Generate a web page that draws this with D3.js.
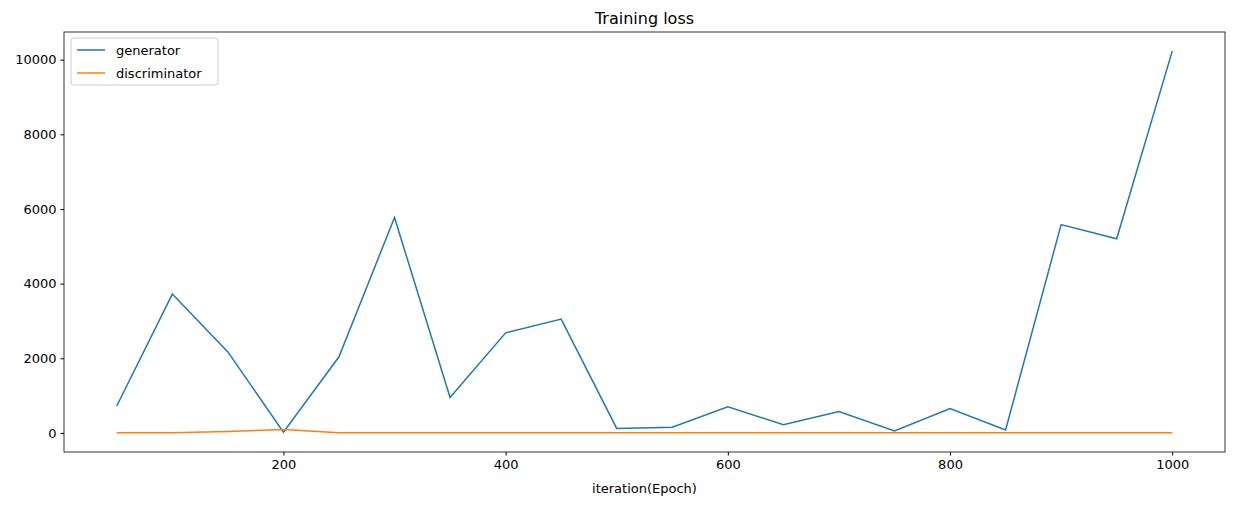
<!DOCTYPE html>
<html><head><meta charset="utf-8">
<script src="https://cdn.jsdelivr.net/npm/d3@7"></script>
<style>body{margin:0;background:#fff}text{font-family:"DejaVu Sans",sans-serif}</style>
</head><body><svg id="c" width="1239" height="505"></svg>
<script>
const epochs=[50,100,150,200,250,300,350,400,450,500,550,600,650,700,750,800,850,900,950,1000];
const generator=[720,3720,2170,20,2040,5770,950,2680,3050,120,150,700,220,570,50,650,80,5580,5200,10230];
const discriminator=[3,3,40,90,5,3,3,3,3,3,3,3,3,3,3,3,3,3,3,3];
const xTicks=[200,400,600,800,1000];
const yTicks=[0,2000,4000,6000,8000,10000];
const L=64,R=1225,T=32,B=452;
const svg=d3.select("#c");
const x=d3.scaleLinear().domain([2.5,1047.5]).range([L,R]);
const y=d3.scaleLinear().domain([-511.5,10741.5]).range([B,T]);
const fs="13.9px";
const xa=svg.append("g").attr("transform",`translate(0,${B})`).call(d3.axisBottom(x).tickValues(xTicks).tickSize(3.5).tickPadding(4).tickFormat(d3.format("d")));
const ya=svg.append("g").attr("transform",`translate(${L},0)`).call(d3.axisLeft(y).tickValues(yTicks).tickSize(3.5).tickPadding(4).tickFormat(d3.format("d")));
[xa,ya].forEach(a=>{a.select(".domain").remove();a.selectAll("text").style("font-size","13px").attr("fill","#000");a.selectAll("line").attr("stroke","#000");});
const line=d=>d3.line().x((v,i)=>x(epochs[i])).y(v=>y(v))(d);
svg.append("path").attr("d",line(generator)).attr("fill","none").attr("stroke","#1f77b4").attr("stroke-width",1.5);
svg.append("path").attr("d",line(discriminator)).attr("fill","none").attr("stroke","#ff7f0e").attr("stroke-width",1.5);
svg.append("rect").attr("x",L).attr("y",T).attr("width",R-L).attr("height",B-T).attr("fill","none").attr("stroke","#000").attr("stroke-width",0.8);
svg.append("text").attr("x",(L+R)/2).attr("y",24).attr("text-anchor","middle").style("font-size","16px").text("Training loss");
svg.append("text").attr("x",(L+R)/2).attr("y",493).attr("text-anchor","middle").style("font-size","13px").text("iteration(Epoch)");
const lg=svg.append("g");
lg.append("rect").attr("x",71).attr("y",38).attr("width",147).attr("height",47).attr("rx",3).attr("fill","#fff").attr("stroke","#ccc");
[["generator","#1f77b4"],["discriminator","#ff7f0e"]].forEach(([n,c],i)=>{
 const yy=50+i*23;
 lg.append("line").attr("x1",77).attr("x2",105).attr("y1",yy).attr("y2",yy).attr("stroke",c).attr("stroke-width",1.5);
 lg.append("text").attr("x",116).attr("y",yy+5).style("font-size","13px").text(n);
});
</script></body></html>
